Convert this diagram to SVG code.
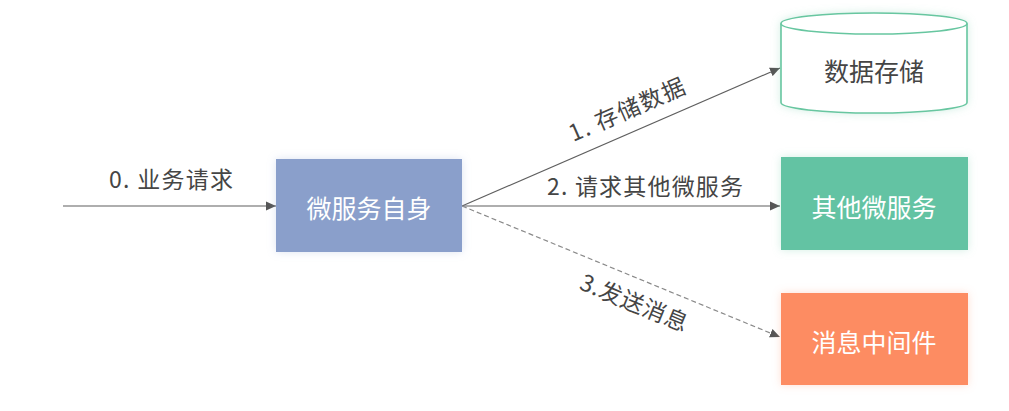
<svg xmlns="http://www.w3.org/2000/svg" width="1009" height="411" viewBox="0 0 1009 411">
<style>
text{font-family:"Noto Sans CJK SC","Noto Sans",sans-serif;}
.lbl{font-size:23px;fill:#454545;text-anchor:middle;}
.box{font-size:25px;fill:#ffffff;text-anchor:middle;}
.dark{font-size:25px;fill:#454545;text-anchor:middle;}
.ln{stroke:#5f5f5f;stroke-width:1.2;fill:none;}
.dash{stroke:#8a8a8a;stroke-width:1.2;fill:none;stroke-dasharray:5 3;}
</style>
<defs>
<marker id="arr" viewBox="0 0 10 10" refX="10" refY="5" markerWidth="10" markerHeight="10" markerUnits="userSpaceOnUse" orient="auto">
<path d="M0,0.5 L10,5 L0,9.5 Z" fill="#555555"/>
</marker>
<filter id="glow" x="-20%" y="-30%" width="140%" height="160%">
<feGaussianBlur in="SourceAlpha" stdDeviation="4" result="b"/>
<feFlood flood-color="#9fb0d8" flood-opacity="0.35"/>
<feComposite in2="b" operator="in" result="s"/>
<feMerge><feMergeNode in="s"/><feMergeNode in="SourceGraphic"/></feMerge>
</filter>
<filter id="glowG" x="-20%" y="-30%" width="140%" height="160%">
<feGaussianBlur in="SourceAlpha" stdDeviation="4" result="b"/>
<feFlood flood-color="#7fd0b0" flood-opacity="0.35"/>
<feComposite in2="b" operator="in" result="s"/>
<feMerge><feMergeNode in="s"/><feMergeNode in="SourceGraphic"/></feMerge>
</filter>
<filter id="glowO" x="-20%" y="-30%" width="140%" height="160%">
<feGaussianBlur in="SourceAlpha" stdDeviation="4" result="b"/>
<feFlood flood-color="#fda07e" flood-opacity="0.35"/>
<feComposite in2="b" operator="in" result="s"/>
<feMerge><feMergeNode in="s"/><feMergeNode in="SourceGraphic"/></feMerge>
</filter>
</defs>
<rect width="1009" height="411" fill="#ffffff"/>

<g id="connectors">
<line class="ln" x1="63" y1="206" x2="276" y2="206" marker-end="url(#arr)"/>
<line class="ln" x1="462" y1="206" x2="780" y2="68" marker-end="url(#arr)"/>
<line class="ln" x1="462" y1="206" x2="780" y2="206" marker-end="url(#arr)"/>
<line class="dash" x1="462" y1="206" x2="780" y2="337" marker-end="url(#arr)"/>
<text class="lbl" x="171" y="188" textLength="124" lengthAdjust="spacing">0. 业务请求</text>
<text class="lbl" x="645" y="195" textLength="196" lengthAdjust="spacing">2. 请求其他微服务</text>
<g transform="translate(627,110) rotate(-23.5)"><text class="lbl" x="0" y="8" textLength="124" lengthAdjust="spacing">1. 存储数据</text></g>
<g transform="translate(634,303) rotate(22.4)"><text class="lbl" x="0" y="8" textLength="114" lengthAdjust="spacing">3.发送消息</text></g>
</g>

<g id="self">
<rect x="276" y="159" width="186" height="93" fill="#8a9fcb" filter="url(#glow)"/>
<text class="box" x="369" y="218">微服务自身</text>
</g>

<g id="storage">
<path d="M781,23.5 L781,102.5 A93,10.5 0 0 0 967,102.5 L967,23.5 A93,10.5 0 0 0 781,23.5 Z" fill="#ffffff" stroke="#67c6a0" stroke-width="1.6" filter="url(#glowG)"/>
<path d="M781,23.5 A93,10.5 0 0 0 967,23.5" fill="none" stroke="#67c6a0" stroke-width="1.6"/>
<text class="dark" x="874" y="81">数据存储</text>
</g>

<g id="other">
<rect x="781" y="157" width="187" height="93" fill="#64c3a3" filter="url(#glowG)"/>
<text class="box" x="874" y="217">其他微服务</text>
</g>

<g id="mq">
<rect x="781" y="293" width="187" height="92" fill="#fd8c62" filter="url(#glowO)"/>
<text class="box" x="874" y="352">消息中间件</text>
</g>
</svg>
